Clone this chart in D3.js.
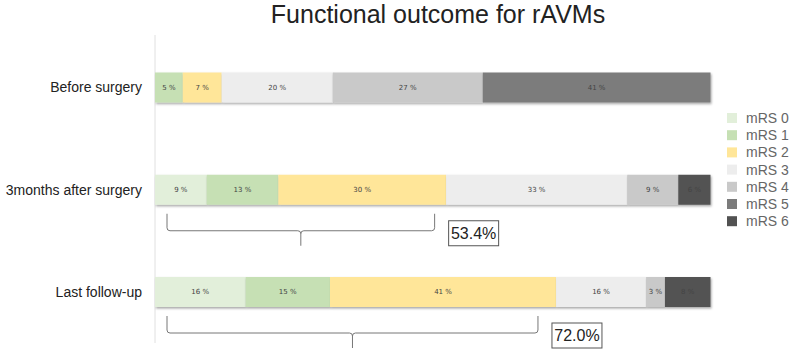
<!DOCTYPE html>
<html>
<head>
  <meta charset="utf-8">
  <title>Functional outcome for rAVMs</title>
  <script src="https://d3js.org/d3.v7.min.js"></script>
  <style>
    body { margin: 0; background: #fff; }
    svg { font-family: "Liberation Sans", Arial, sans-serif; }
  </style>
</head>
<body>
  <script>
    var categories = ["Before surgery", "3months after surgery", "Last follow-up"];
    var grades = ["mRS 0", "mRS 1", "mRS 2", "mRS 3", "mRS 4", "mRS 5", "mRS 6"];
    var beforeSurgery = [0, 5, 7, 20, 27, 41, 0];
    var threeMonths = [9.3, 12.9, 30.2, 32.6, 9.2, 0, 5.8];
    var lastFollowUp = [16.3, 15.2, 40.7, 16.2, 3.4, 0, 8.2];
    var goodOutcome = [null, "53.4%", "72.0%"];
    var goodOutcomeValue = [null, 53.4, 72.0];
    var colors = ["#e2efda", "#c6e0b4", "#ffe699", "#ededed", "#c9c9c9", "#7b7b7b", "#525252"];

    var rows = [beforeSurgery, threeMonths, lastFollowUp];

    var width = 790, height = 350;
    var svg = d3.select("body").append("svg")
      .attr("width", width)
      .attr("height", height);

    var defs = svg.append("defs");
    var f = defs.append("filter").attr("id", "shadow")
      .attr("x", "-10%").attr("y", "-20%").attr("width", "130%").attr("height", "160%");
    f.append("feDropShadow").attr("dx", 1).attr("dy", 1.5).attr("stdDeviation", 1)
      .attr("flood-color", "#000").attr("flood-opacity", 0.35);

    var x = d3.scaleLinear().domain([0, 100]).range([155, 710.5]);
    var y = d3.scalePoint().domain(categories).range([87.5, 292]);
    var barH = 30;
    var color = d3.scaleOrdinal().domain(grades).range(colors);

    svg.append("text")
      .attr("x", 438).attr("y", 23)
      .attr("text-anchor", "middle")
      .attr("font-size", 25)
      .attr("font-weight", 300)
      .attr("fill", "#222")
      .text("Functional outcome for rAVMs");

    svg.append("line")
      .attr("x1", x(0)).attr("x2", x(0))
      .attr("y1", 35).attr("y2", 343)
      .attr("stroke", "#e0e0e0");

    // category labels
    svg.selectAll(".cat")
      .data(categories)
      .enter().append("text")
      .attr("class", "cat")
      .attr("x", 142)
      .attr("y", d => y(d))
      .attr("dy", "0.35em")
      .attr("text-anchor", "end")
      .attr("font-size", 14)
      .attr("fill", "#222")
      .text(d => d);

    var segs = [];
    rows.forEach(function(vals, i) {
      var acc = 0;
      vals.forEach(function(v, j) {
        if (v > 0) segs.push({ cat: categories[i], grade: grades[j], x0: acc, x1: acc + v, v: v });
        acc += v;
      });
    });

    var g = svg.selectAll(".seg")
      .data(segs)
      .enter().append("g")
      .attr("class", "seg");

    g.append("rect")
      .attr("x", d => x(d.x0))
      .attr("y", d => y(d.cat) - barH / 2)
      .attr("width", d => x(d.x1) - x(d.x0))
      .attr("height", barH)
      .attr("fill", d => color(d.grade))
      .attr("filter", "url(#shadow)");

    g.append("text")
      .attr("x", d => (x(d.x0) + x(d.x1)) / 2)
      .attr("y", d => y(d.cat))
      .attr("dy", "0.35em")
      .attr("text-anchor", "middle")
      .attr("font-size", 7)
      .attr("font-family", "'DejaVu Sans', sans-serif")
      .attr("fill", "#444")
      .text(d => Math.round(d.v) + " %");

    // brackets for mRS 0-2
    categories.forEach(function(c, i) {
      if (goodOutcome[i] === null) return;
      var x0 = x(0) + 12, x1 = x(goodOutcomeValue[i]) - 17;
      var top = y(c) + barH / 2 + 9;
      var mid = top + 17, tip = mid + 15, xm = (x0 + x1) / 2, r = 3;
      var p = d3.path();
      p.moveTo(x0, top);
      p.lineTo(x0, mid - r);
      p.quadraticCurveTo(x0, mid, x0 + r, mid);
      p.lineTo(xm - r, mid);
      p.quadraticCurveTo(xm, mid, xm, mid + r);
      p.lineTo(xm, tip);
      p.moveTo(xm, mid + r);
      p.quadraticCurveTo(xm, mid, xm + r, mid);
      p.lineTo(x1 - r, mid);
      p.quadraticCurveTo(x1, mid, x1, mid - r);
      p.lineTo(x1, top);
      svg.append("path")
        .attr("d", p.toString())
        .attr("fill", "none")
        .attr("stroke", "#777")
        .attr("stroke-width", 1);

      var bx = x1 + 14, by = y(c) + barH / 2 + 16;
      svg.append("rect")
        .attr("x", bx).attr("y", by)
        .attr("width", 50).attr("height", 25)
        .attr("fill", "#fff")
        .attr("stroke", "#555");
      svg.append("text")
        .attr("x", bx + 25).attr("y", by + 12.5)
        .attr("dy", "0.36em")
        .attr("text-anchor", "middle")
        .attr("font-size", 16)
        .attr("fill", "#222")
        .text(goodOutcome[i]);
    });

    // legend
    var legend = svg.selectAll(".legend")
      .data(grades)
      .enter().append("g")
      .attr("class", "legend")
      .attr("transform", (d, i) => "translate(727," + (113 + i * 17.2) + ")");
    legend.append("rect")
      .attr("width", 10).attr("height", 10)
      .attr("fill", d => color(d));
    legend.append("text")
      .attr("x", 19).attr("y", 5)
      .attr("dy", "0.36em")
      .attr("font-size", 14)
      .attr("fill", "#666")
      .text(d => d);
  </script>
</body>
</html>
